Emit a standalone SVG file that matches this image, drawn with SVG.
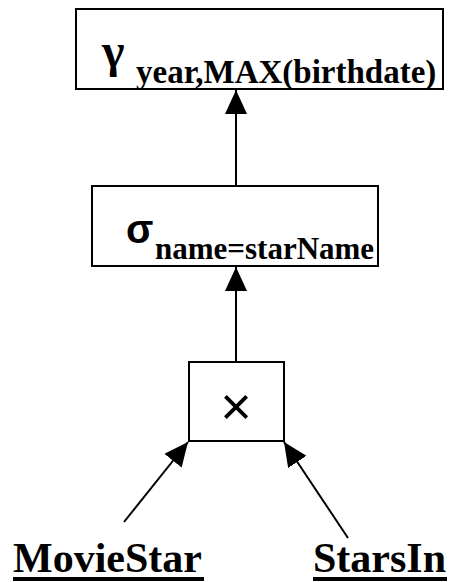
<svg xmlns="http://www.w3.org/2000/svg" width="450" height="582" viewBox="0 0 450 582">
  <style>
    .box { fill: #fff; stroke: #000; stroke-width: 2; }
    .edge { stroke: #000; stroke-width: 2; fill: none; marker-end: url(#arrow); }
    .sub { font-family: "Liberation Serif", serif; font-weight: bold; fill: #000; }
    .rel { font-family: "Liberation Serif", serif; font-weight: bold; font-size: 42px; fill: #000; }
    .uline { fill: #000; }
  </style>
  <defs>
    <marker id="arrow" markerUnits="userSpaceOnUse" markerWidth="24" markerHeight="22" viewBox="0 0 24 22" refX="24" refY="11" orient="auto">
      <path d="M0,0 L24,11 L0,22 Z" fill="#000"/>
    </marker>
  </defs>
  <rect width="450" height="582" fill="#fff"/>

  <g id="connectors">
    <line class="edge" x1="236" y1="185" x2="236" y2="90"/>
    <line class="edge" x1="236" y1="361" x2="236" y2="267"/>
    <line class="edge" x1="124" y1="522" x2="188" y2="442"/>
    <line class="edge" x1="348" y1="538" x2="284" y2="442"/>
  </g>

  <g id="group-by">
    <rect class="box" x="76" y="9" width="367" height="80"/>
    <text x="102" y="67" font-family="Liberation Serif, serif" font-weight="bold" font-size="48px">γ</text>
    <text class="sub" x="136" y="83" font-size="33px">year,MAX(birthdate)</text>
  </g>

  <g id="select">
    <rect class="box" x="92" y="186" width="286" height="80"/>
    <text x="126" y="243" font-family="Liberation Sans, sans-serif" font-weight="bold" font-size="40px">σ</text>
    <text class="sub" x="155" y="259" font-size="31px">name=starName</text>
  </g>

  <g id="product">
    <rect class="box" x="189" y="362" width="95" height="79"/>
    <text x="236" y="425" text-anchor="middle" font-family="Liberation Sans, sans-serif" font-size="54px">×</text>
  </g>

  <g id="moviestar">
    <text class="rel" x="13" y="572">MovieStar</text>
    <rect class="uline" x="13" y="577" width="191" height="4"/>
  </g>

  <g id="starsin">
    <text class="rel" x="313" y="572">StarsIn</text>
    <rect class="uline" x="313" y="577" width="134" height="4"/>
  </g>
</svg>
